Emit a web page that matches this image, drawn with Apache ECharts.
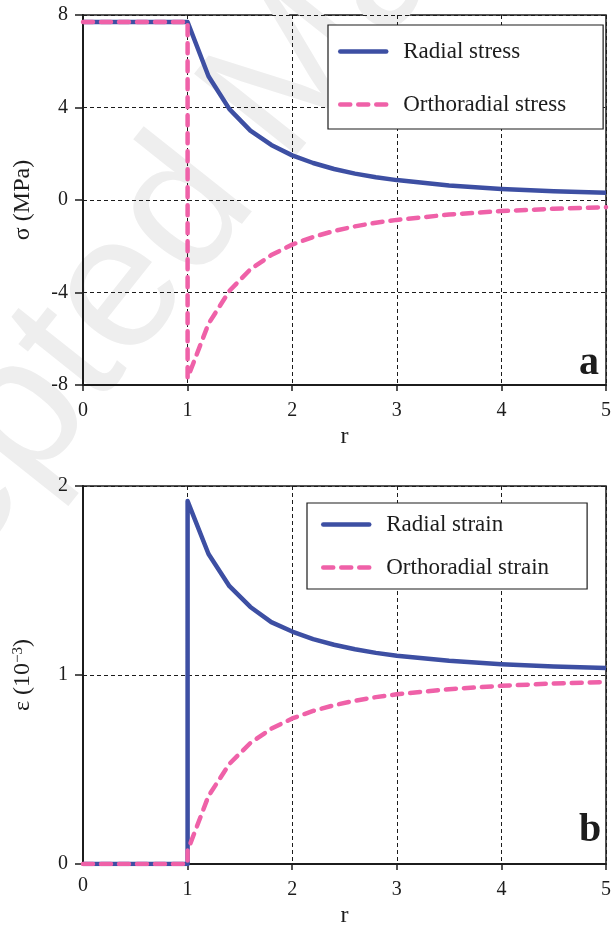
<!DOCTYPE html>
<html><head><meta charset="utf-8">
<script src="https://cdn.jsdelivr.net/npm/echarts@6/dist/echarts.min.js"></script>
<style>html,body{margin:0;padding:0;background:#fff}#c{width:614px;height:929px}</style>
</head><body><div id="c"></div>
<script>
// ---- data ----
const xTicks = [0, 1, 2, 3, 4, 5];
const stressTicks = [-8, -4, 0, 4, 8];
const strainTicks = [0, 1, 2];

const radialStressR = [0, 1, 1.2, 1.4, 1.6, 1.8, 2, 2.2, 2.4, 2.6, 2.8, 3, 3.5, 4, 4.5, 5];
const radialStress  = [7.7, 7.7, 5.35, 3.93, 3.0, 2.38, 1.93, 1.6, 1.34, 1.14, 0.98, 0.86, 0.63, 0.48, 0.38, 0.31];
const orthoStressR  = [0, 1, 1, 1.2, 1.4, 1.6, 1.8, 2, 2.2, 2.4, 2.6, 2.8, 3, 3.5, 4, 4.5, 5];
const orthoStress   = [7.7, 7.7, -7.7, -5.35, -3.93, -3.0, -2.38, -1.93, -1.6, -1.34, -1.14, -0.98, -0.86, -0.63, -0.48, -0.38, -0.31];

const strainR       = [0, 1, 1, 1.2, 1.4, 1.6, 1.8, 2, 2.2, 2.4, 2.6, 2.8, 3, 3.5, 4, 4.5, 5];
const radialStrain  = [0, 0, 1.92, 1.64, 1.47, 1.36, 1.28, 1.23, 1.19, 1.16, 1.136, 1.117, 1.102, 1.075, 1.057, 1.045, 1.037];
const orthoStrain   = [0, 0, 0.07, 0.36, 0.53, 0.64, 0.716, 0.77, 0.81, 0.84, 0.864, 0.883, 0.898, 0.925, 0.943, 0.955, 0.963];

const zip = (xs, ys) => xs.map((x, i) => [x, ys[i]]);

const FONT = '"Liberation Serif", "Times New Roman", serif';
const BLUE = '#3D4FA3';
const PINK = '#EF61A8';
const INK = '#1c1c1c';

const chart = echarts.init(document.getElementById('c'), null, {renderer: 'canvas'});

function xAxis(gridIndex, hideMin) {
  return {
    type: 'value', gridIndex, min: xTicks[0], max: xTicks[xTicks.length - 1], interval: 1,
    name: 'r', nameLocation: 'middle', nameGap: 40,
    nameTextStyle: {fontFamily: FONT, fontSize: 24, color: INK},
    axisLine: {show: true, onZero: false, lineStyle: {color: INK, width: 2}},
    axisTick: {show: true, length: 6, lineStyle: {color: INK, width: 1.5}},
    axisLabel: {fontFamily: FONT, fontSize: 20, color: INK, margin: 16, showMinLabel: !hideMin},
    splitLine: {show: true, lineStyle: {color: INK, type: [4, 3], width: 1}}
  };
}
function yAxis(gridIndex, min, max, interval, name) {
  return {
    type: 'value', gridIndex, min, max, interval,
    name, nameLocation: 'middle', nameGap: 48,
    nameTextStyle: {fontFamily: FONT, fontSize: 24, color: INK,
      rich: {sup: {fontFamily: FONT, fontSize: 15, color: INK, verticalAlign: 'top', padding: [0, 0, 9, 0]}}},
    axisLine: {show: true, onZero: false, lineStyle: {color: INK, width: 2}},
    axisTick: {show: true, length: 8, lineStyle: {color: INK, width: 1.5}},
    axisLabel: {fontFamily: FONT, fontSize: 20, color: INK, margin: 15},
    splitLine: {show: true, lineStyle: {color: INK, type: [4, 3], width: 1}}
  };
}
function legend(names, left, top, itemGap, padding) {
  return {
    data: names, orient: 'vertical', left, top, itemGap, padding,
    itemWidth: 46, itemHeight: 20,
    itemStyle: {color: 'rgba(0,0,0,0)', borderWidth: 0, opacity: 0},
    lineStyle: {width: 4.5, cap: 'round'},
    backgroundColor: '#fff', borderColor: INK, borderWidth: 1.2, borderRadius: 0,
    textStyle: {fontFamily: FONT, fontSize: 23, color: INK, padding: [0, 0, 0, 12]},
    selectedMode: false
  };
}
function line(name, data, xi, yi, color, dashed) {
  return {
    name, type: 'line', xAxisIndex: xi, yAxisIndex: yi, data,
    symbol: 'none', showSymbol: false, animation: false, silent: true, z: dashed ? 4 : 3,
    lineStyle: {color, width: 4.5, type: dashed ? [10, 8] : 'solid', cap: dashed ? 'round' : 'butt', join: 'round'},
    itemStyle: {color}
  };
}

chart.setOption({
  animation: false,
  backgroundColor: '#fff',
  graphic: [
    {type: 'group', x: 232, y: 152, rotation: 0.9, z: -100, silent: true, children: [
      {type: 'text', x: -22, y: 0, style: {text: 'Accepted', fontFamily: '"Liberation Sans", Arial, sans-serif', fontSize: 190, fill: '#eeeeee', align: 'right', verticalAlign: 'middle'}},
      {type: 'text', x: 22, y: 0, style: {text: 'Manuscript', fontFamily: '"Liberation Sans", Arial, sans-serif', fontSize: 190, fill: '#eeeeee', align: 'left', verticalAlign: 'middle'}}
    ]},
    {type: 'text', x: 589, y: 384, z: 50, style: {text: 'a', fontFamily: FONT, fontWeight: 'bold', fontSize: 40, fill: INK, align: 'center', verticalAlign: 'bottom'}},
    {type: 'text', x: 590, y: 851, z: 50, style: {text: 'b', fontFamily: FONT, fontWeight: 'bold', fontSize: 40, fill: INK, align: 'center', verticalAlign: 'bottom'}},
    {type: 'text', x: 83, y: 886, z: 50, style: {text: String(xTicks[0]), fontFamily: FONT, fontSize: 20, fill: INK, align: 'center', verticalAlign: 'middle'}}
  ],
  grid: [
    {left: 83, top: 15, width: 529, height: 370, show: true, borderColor: INK, borderWidth: 1.5, backgroundColor: 'transparent'},
    {left: 83, top: 486, width: 524, height: 383, show: true, borderColor: INK, borderWidth: 1.5, backgroundColor: 'transparent'}
  ],
  xAxis: [xAxis(0, false), xAxis(1, true)],
  yAxis: [
    yAxis(0, stressTicks[0], stressTicks[stressTicks.length - 1], 4, 'σ (MPa)'),
    yAxis(1, strainTicks[0], strainTicks[strainTicks.length - 1], 1, 'ε (10{sup|−3})')
  ],
  legend: [
    legend(['Radial stress', 'Orthoradial stress'], 328, 25, 30, [15, 37, 13, 10]),
    legend(['Radial strain', 'Orthoradial strain'], 307, 503, 20, [10, 38, 10, 14])
  ],
  series: [
    line('Radial stress', zip(radialStressR, radialStress), 0, 0, BLUE, false),
    line('Orthoradial stress', zip(orthoStressR, orthoStress), 0, 0, PINK, true),
    line('Radial strain', zip(strainR, radialStrain), 1, 1, BLUE, false),
    line('Orthoradial strain', zip(strainR, orthoStrain), 1, 1, PINK, true)
  ]
});
</script></body></html>
